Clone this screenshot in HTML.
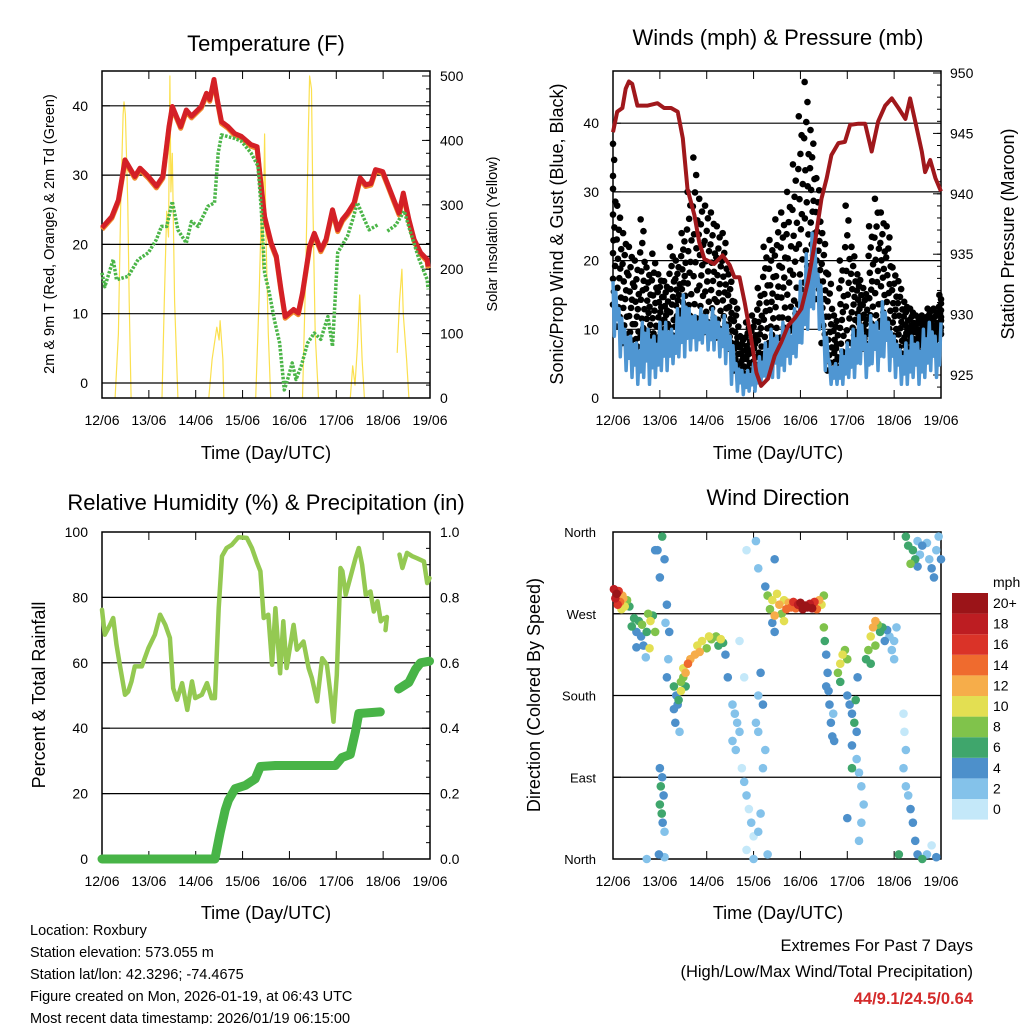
<!DOCTYPE html>
<html><head><meta charset="utf-8">
<style>
html,body{margin:0;padding:0;background:#fff;}
svg{display:block;font-family:"Liberation Sans",Arial,sans-serif;}
</style></head>
<body>
<svg id="fig" width="1024" height="1024" viewBox="0 0 1024 1024" xmlns="http://www.w3.org/2000/svg">
<rect width="1024" height="1024" fill="#fff"/>
<g id="g1"></g>
<g id="g2"></g>
<g id="g3"></g>
<g id="g4"></g>
<g font-size="14.5" fill="#000">
<text x="30" y="935">Location: Roxbury</text>
<text x="30" y="957">Station elevation: 573.055 m</text>
<text x="30" y="979">Station lat/lon: 42.3296; -74.4675</text>
<text x="30" y="1001">Figure created on Mon, 2026-01-19, at 06:43 UTC</text>
<text x="30" y="1023">Most recent data timestamp: 2026/01/19 06:15:00</text>
</g>
<g font-size="16.5" text-anchor="end">
<text x="973" y="951">Extremes For Past 7 Days</text>
<text x="973" y="977">(High/Low/Max Wind/Total Precipitation)</text>
<text x="973" y="1004" fill="#d42a2a" font-weight="bold">44/9.1/24.5/0.64</text>
</g>
</svg>
<script>
// ---- data ----
const dayLabels=["12/06","13/06","14/06","15/06","16/06","17/06","18/06","19/06"];
const tempTimes=[0,.21,.35,.49,.70,.81,.99,1.16,1.30,1.43,1.50,1.68,1.80,1.91,2.12,2.23,2.30,2.39,2.46,2.55,2.69,2.83,2.97,3.18,3.31,3.36,3.47,3.61,3.72,3.82,3.91,4.0,4.09,4.19,4.28,4.43,4.53,4.67,4.78,4.92,5.03,5.13,5.24,5.38,5.51,5.63,5.74,5.84,5.99,6.09,6.23,6.34,6.43,6.55,6.66,6.80,6.94,6.96];
const tempValues=[22.4,24,26.4,32.2,29.8,31,29.8,28.4,29.8,37,39.9,37,39.4,38.5,39.9,41.8,40.9,43.8,40.9,37.7,37,36,35.6,34.4,34.1,30.8,24,20.2,18.3,13.5,9.6,10.1,10.6,10.1,13,19.7,21.6,19.2,20.7,25,22.1,23.6,24.5,26,29.6,28.6,28.8,30.8,30.5,28.8,26.4,24.5,27.4,23.6,20.7,18.8,17.8,16.8];
const dewTimes=[0,.06,.24,.31,.56,.77,.99,1.16,1.27,1.38,1.50,1.62,1.80,1.91,2.05,2.26,2.40,2.48,2.55,2.83,2.97,3.18,3.33,3.40,3.47,3.57,3.68,3.79,3.89,3.96,4.06,4.14,4.25,4.39,4.53,4.67,4.82,4.92,5.03,5.24,5.35,5.45,5.60,5.70,5.88,null,6.09,6.27,6.45,6.59,6.77,6.94,6.96];
const dewValues=[15.9,13.9,17.8,14.9,15.4,17.8,18.8,20.7,22.6,22.6,26.2,22.1,20.2,23.3,22.6,25.5,26,33.2,35.8,35.3,34.9,33.2,31.3,25,15.9,13,9.1,5.8,-1,0.5,2.9,0.5,2.4,5.8,7.2,6.3,9.6,5.3,18.8,21.2,23.6,26,23.6,22.1,22.8,null,21.9,22.8,24.8,21.6,17.8,14.9,13.5];
const solarTimes=[0.28,0.35,0.4,0.45,0.47,0.5,0.55,0.58,0.62,null,1.28,1.33,1.38,1.42,1.45,1.47,1.5,1.55,1.62,null,2.28,2.35,2.45,2.5,2.52,2.58,2.6,null,3.28,3.35,3.4,3.43,3.47,3.5,3.55,3.6,null,4.28,4.35,4.4,4.43,4.47,4.5,4.55,4.62,null,5.3,5.35,5.4,5.45,5.5,5.55,5.6,null,6.3,6.35,6.4,6.43,6.5,6.55];
const solarValues=[0,100,300,440,460,440,300,150,0,null,0,150,290,250,500,320,380,150,0,null,0,60,110,90,120,60,0,null,0,150,290,200,410,250,100,0,null,0,200,400,500,480,300,100,0,null,0,50,20,80,160,60,0,null,70,150,200,130,60,0];
const presTimes=[0,.09,.2,.27,.34,.41,.52,.74,.95,1.09,1.24,1.38,1.49,1.59,1.74,1.84,1.95,2.16,2.34,2.49,2.59,2.7,2.81,2.95,3.06,3.16,3.31,3.45,3.59,3.74,3.88,4.02,4.16,4.31,4.45,4.56,4.66,4.81,4.95,5.06,5.24,5.38,5.52,5.66,5.81,5.95,6.09,6.24,6.34,6.45,6.59,6.66,6.77,6.88,7.0];
const presValues=[945.1,946.8,947.1,948.7,949.3,949.1,947.3,947.3,947.5,947.1,947.1,946.8,944.6,940.4,938.2,936.0,934.6,934.2,934.9,934.1,933.1,933.1,931.0,928.0,925.2,924.1,924.7,926.6,927.7,929.1,929.7,930.5,932.7,936.0,939.6,941.3,943.2,944.2,944.3,945.7,945.8,945.8,943.5,946.0,947.3,947.9,947.1,946.2,947.9,946.0,943.5,941.8,942.8,941.3,940.2];
// wind every 3 h (0.125 day)
const windHigh=[17,13,10,9,8,11,10,9,11,11,10,13,15,13,12,13,12,13,11,12,9,5,4,4,5,6,8,10,9,11,10,13,17,21,24,18,10,5,5,7,8,10,12,9,12,11,14,11,9,7,8,9,8,10,11,9,11];
const windLow=[9,6,4,3,2,3,2,3,4,4,5,6,6,7,7,8,7,7,6,5,2,1,0.5,1,1,2,3,3,3,4,5,6,8,10,13,10,4,2,2,2,3,3,5,3,5,4,6,4,3,2,2,3,2,3,4,3,4];
const gustHigh=[37,28,24,22,20,26,19,21,18,17,22,20,24,30,35,29,28,27,25,24,18,14,9,11,12,16,22,23,26,27,30,34,41,46,39,32,24,18,12,20,28,22,18,16,25,29,27,25,19,17,14,13,12,12,13,13,15];
const rhTimes=[0,.06,.17,.24,.31,.38,.49,.56,.63,.70,.85,.99,1.13,1.24,1.35,1.45,1.52,1.60,1.71,1.82,1.92,1.99,2.13,2.24,2.34,2.41,2.49,2.56,2.66,2.77,2.91,3.09,3.20,3.30,3.38,3.45,3.55,3.63,3.70,3.80,3.87,3.94,4.09,4.16,4.30,4.41,4.48,4.59,4.70,4.80,4.87,4.94,5.01,5.09,5.13,5.20,5.41,5.48,5.55,5.63,5.73,5.80,5.88,5.95,6.02,null,6.05,6.08,null,6.35,6.41,6.51,6.62,6.72,6.87,6.94,6.99];
const rhValues=[76.2,68.6,71.6,73.7,65.5,59.4,50.2,51.2,54.3,58.9,58.9,64.5,68.6,74.7,71.6,67.6,52.2,48.7,53.8,45.6,54.3,49.2,50.2,53.8,49.2,49.2,76.7,92.6,95.1,96.1,98.4,98.2,95.1,91,88,73.7,74.7,59.4,76.7,56.8,72.7,58.4,71.6,64,66.5,58.4,55.3,48.2,61.4,59.4,51.2,42,56.3,89,88,80.8,92,95.1,90,80.8,81.8,75.7,78.8,72.7,73.7,null,70,74,null,93.1,89,93.6,92.6,92,91,84.4,85.9];
const rainTimes=[0,2.41,2.52,2.63,2.70,2.84,3.06,3.27,3.38,3.70,4.98,5.12,5.30,5.41,5.48,5.94,null,6.33,6.55,6.69,6.80,6.99];
const rainValues=[0,0,.08,.15,.18,.215,.225,.245,.283,.286,.286,.31,.32,.39,.445,.45,null,.52,.54,.58,.60,.605];
const dirTimes=[0.02,0.08,0.12,0.05,0.15,0.2,0.25,0.3,0.18,0.1,0.22,0.35,0.45,0.5,0.55,0.6,0.65,0.7,0.75,0.8,0.85,0.5,0.62,0.72,0.9,0.78,0.4,0.95,1.0,1.05,1.1,1.15,1.2,1.18,1.12,1.0,1.02,1.05,1.08,1.04,1.06,1.1,0.98,1.1,1.0,1.15,0.9,0.72,1.3,1.35,1.4,1.45,1.5,1.55,1.6,1.65,1.45,1.5,1.38,1.33,1.42,1.55,1.3,1.75,1.8,1.9,2.0,2.1,2.2,2.3,2.35,2.4,1.85,2.05,2.25,2.45,2.55,2.6,2.65,2.7,2.55,2.62,2.75,2.8,2.85,2.9,2.95,3.0,2.85,3.1,3.15,3.2,3.1,3.25,3.05,3.2,2.8,2.7,3.1,3.15,3.0,3.3,2.85,3.05,3.1,3.3,3.35,3.4,3.45,3.5,3.55,3.6,3.65,3.7,3.75,3.8,3.85,3.9,3.95,4.0,4.05,4.1,4.15,4.2,4.25,4.3,4.35,4.4,4.45,4.5,3.4,3.45,3.65,3.25,3.45,4.5,4.52,4.55,4.58,4.6,4.62,4.65,4.68,4.72,4.7,4.55,4.8,4.85,4.9,4.95,5.0,4.85,5.0,5.05,5.1,5.15,5.2,5.1,5.2,5.25,5.3,5.35,5.3,5.25,5.0,5.1,5.18,5.22,5.4,5.45,5.5,5.55,5.6,5.65,5.7,5.75,5.8,5.85,5.9,5.95,6.0,5.5,5.6,6.05,6.0,6.2,6.22,6.25,6.2,6.25,6.3,6.35,6.4,6.45,6.5,6.6,6.7,6.8,6.9,6.1,6.25,6.3,6.4,6.45,6.5,6.55,6.6,6.7,6.75,6.8,6.85,6.9,6.95,7.0,6.35,6.5];
const dirValues=[297,292,295,287,283,290,278,285,275,280,287,278,265,250,262,245,235,222,270,262,268,233,258,250,250,232,256,340,310,355,330,280,250,220,260,100,80,90,70,50,40,30,5,2,60,200,340,0,190,180,175,195,200,205,215,220,185,210,170,150,140,190,165,225,235,240,232,242,245,242,238,225,228,245,235,200,170,160,150,140,130,120,100,85,70,55,40,25,10,30,50,100,140,120,150,170,200,240,180,205,0,5,340,350,320,290,275,285,268,292,280,270,285,275,282,277,283,276,280,282,275,279,277,281,276,283,275,285,280,290,260,250,262,300,330,255,240,225,205,185,170,150,135,130,160,190,205,215,225,230,220,195,180,170,160,150,140,125,110,95,80,60,40,20,45,100,175,200,220,230,245,255,262,258,250,255,240,252,245,230,240,215,235,255,220,160,140,120,100,80,70,55,40,20,5,0,5,15,2,5,355,345,340,330,322,335,345,348,330,320,310,340,355,330,325,350];
const dirSpeeds=[18,20,17,19,14,13,10,9,11,16,12,7,7,5,6,4,5,3,9,10,7,4,8,6,9,11,7,4,5,6,4,5,4,3,3,5,6,4,5,6,5,3,4,3,7,4,4,2,6,5,6,8,9,13,14,12,11,10,4,4,3,7,4,12,10,11,9,8,8,11,7,5,13,10,7,4,3,2,3,2,3,2,1,2,2,1,2,1,1,2,3,2,3,3,2,4,1,1,3,4,2,2,1,2,3,8,9,11,12,10,13,9,11,14,12,15,16,14,18,20,21,20,22,19,20,16,15,12,10,8,5,4,11,5,5,8,6,5,4,4,4,4,5,4,3,4,9,10,11,9,8,7,4,5,4,6,5,4,3,2,3,3,2,3,4,6,7,5,7,8,10,12,13,9,7,6,5,4,3,2,3,6,8,3,2,1,1,2,2,2,3,4,4,4,5,6,2,1,4,6,6,7,7,6,5,3,4,3,3,4,4,2,3,4,8,2];
const speedBins=["0","2","4","6","8","10","12","14","16","18","20+"];
const speedColors=["#c4e8f9","#84c2ea","#4d90cb","#3fa66c","#80c34b","#e3df52","#f6ad4a","#ef6b2e","#da3328","#bd1d22","#9b1418"];

// ---- helpers ----
const NS="http://www.w3.org/2000/svg";
function mk(parent,tag,attrs){const e=document.createElementNS(NS,tag);for(const k in attrs)e.setAttribute(k,attrs[k]);parent.appendChild(e);return e;}
function txt(parent,x,y,s,size,anchor,rot){const t=mk(parent,"text",{x:x,y:y,"font-size":size,"text-anchor":anchor||"middle"});if(rot)t.setAttribute("transform","rotate(-90 "+x+" "+y+")");t.textContent=s;return t;}
function pathFrom(ts,vs,fx,fy){let d="",pen=false;for(let i=0;i<ts.length;i++){if(ts[i]===null||vs[i]===null){pen=false;continue;}d+=(pen?"L":"M")+fx(ts[i]).toFixed(1)+","+fy(vs[i]).toFixed(1);pen=true;}return d;}
function frameAxes(g,L,R,T,B,leftTicks,yl,rightMajor,yr,rightMinor,grid){
  grid.forEach(v=>{const l=mk(g,"line",{x1:L,x2:R,y1:yl(v),y2:yl(v),stroke:"#000","stroke-width":1.2});
  
  });
  for(let d=0;d<=7;d++){const x=L+d*(R-L)/7;
    mk(g,"line",{x1:x,x2:x,y1:B,y2:B-8,stroke:"#000","stroke-width":1});
    mk(g,"line",{x1:x,x2:x,y1:T,y2:T+8,stroke:"#000","stroke-width":1});
    const t=txt(g,x,B+27,dayLabels[d],14);
    
    }
  leftTicks.forEach(v=>{mk(g,"line",{x1:L,x2:L+8,y1:yl(v),y2:yl(v),stroke:"#000"});});
  if(rightMajor){rightMajor.forEach(v=>{mk(g,"line",{x1:R,x2:R-8,y1:yr(v),y2:yr(v),stroke:"#000"});});
    rightMinor.forEach(v=>{mk(g,"line",{x1:R,x2:R-4,y1:yr(v),y2:yr(v),stroke:"#000"});});}
  const f=mk(g,"rect",{x:L,y:T,width:R-L,height:B-T,fill:"none",stroke:"#000","stroke-width":1.5});
  
  
}
function range(a,b,s){const r=[];for(let v=a;v<=b+1e-9;v+=s)r.push(+v.toFixed(4));return r;}

// ---- Panel 1: Temperature ----
(function(){
const g=document.getElementById("g1");const L=102,R=430,T=71,B=398;
const x=d=>L+d*(R-L)/7, yT=v=>383-v*6.93, yS=w=>398-w*0.644;
const s=mk(g,"path",{d:pathFrom(solarTimes,solarValues,x,yS),fill:"none",stroke:"#fbe04f","stroke-width":1.2,"stroke-linejoin":"round"});


frameAxes(g,L,R,T,B,[0,10,20,30,40],yT,range(0,500,100),yS,range(0,500,20),[0,10,20,30,40]);
const o=mk(g,"path",{d:pathFrom(tempTimes,tempValues.map(v=>v-0.25),x,yT),fill:"none",stroke:"#f08a2c","stroke-width":5,"stroke-linejoin":"round"});


const r=mk(g,"path",{d:pathFrom(tempTimes,tempValues,x,yT),fill:"none",stroke:"#d42026","stroke-width":5,"stroke-linejoin":"round"});


const gr=mk(g,"path",{d:pathFrom(dewTimes,dewValues,x,yT),fill:"none",stroke:"#4bb548","stroke-width":3.5,"stroke-dasharray":"2.5 1.5","stroke-linejoin":"round"});


[0,10,20,30,40].forEach(v=>{const t=txt(g,88,yT(v)+5,String(v),14,"end");

});
range(0,500,100).forEach(v=>{const t=txt(g,440,yS(v)+5,String(v),14,"start");

});
let t=txt(g,266,51,"Temperature (F)",22);


t=txt(g,266,459,"Time (Day/UTC)",18);


t=txt(g,54,234,"2m & 9m T (Red, Orange) & 2m Td (Green)",14.5,"middle",true);


t=txt(g,497,234,"Solar Insolation (Yellow)",14.5,"middle",true);


})();

// ---- Panel 2: Winds ----
(function(){
const g=document.getElementById("g2");const L=613,R=941,T=71,B=398;
const x=d=>L+d*(R-L)/7, yW=v=>398-v*6.87, yP=p=>73+(950-p)*12.08;
frameAxes(g,L,R,T,B,[0,10,20,30,40],yW,range(925,950,5),yP,range(924,950,1),[10,20,30,40]);
const gg=mk(g,"g",{fill:"#000"});


const fr=[0,0.08,0.16,0.24,0.32,0.4,0.48,0.56,0.64,0.72,0.8,0.9,1],off=[-0.05,0.02,-0.01,0.045,-0.03,0.01,0.03,-0.02,0.05,-0.045,0.0,0.025,-0.035];
for(let i=0;i<gustHigh.length;i++){const lo=windHigh[i]*0.8,hi=gustHigh[i];
  fr.forEach((f,k)=>{const t=Math.min(7,Math.max(0,i*0.125+off[k]));const c=mk(gg,"circle",{cx:x(t),cy:yW(lo+(hi-lo)*f),r:3.3});
  
  });}
let bd="";
for(let i=0;i<windHigh.length;i++){const t0=i*0.125;
  const pts=[[t0,windHigh[i]],[t0+0.03,windLow[i]],[t0+0.06,windHigh[i]*0.8+windLow[i]*0.2],[t0+0.09,windLow[i]*0.7+windHigh[i]*0.3]];
  pts.forEach(p=>{if(p[0]<=7)bd+=(bd?"L":"M")+x(p[0]).toFixed(1)+","+yW(p[1]).toFixed(1);});}
const bl=mk(g,"path",{d:bd,fill:"none",stroke:"#4f96d2","stroke-width":3.5,"stroke-linejoin":"round"});


const p=mk(g,"path",{d:pathFrom(presTimes,presValues,x,yP),fill:"none",stroke:"#a0181c","stroke-width":4,"stroke-linejoin":"round"});


[0,10,20,30,40].forEach(v=>{const t=txt(g,599,yW(v)+5,String(v),14,"end");

});
range(925,950,5).forEach(v=>{const t=txt(g,950,yP(v)+5,String(v),14,"start");

});
let t=txt(g,778,45,"Winds (mph) & Pressure (mb)",22);


t=txt(g,778,459,"Time (Day/UTC)",18);


t=txt(g,563,234,"Sonic/Prop Wind & Gust (Blue, Black)",18,"middle",true);


t=txt(g,1014,234,"Station Pressure (Maroon)",18,"middle",true);


})();

// ---- Panel 3: RH & precip ----
(function(){
const g=document.getElementById("g3");const L=102,R=430,T=532,B=859;
const x=d=>L+d*(R-L)/7, yH=v=>859-v*3.27, yR=v=>859-v*327;
frameAxes(g,L,R,T,B,range(0,100,20),yH,range(0,1,0.2),yR,range(0,1,0.05),[20,40,60,80]);
const h=mk(g,"path",{d:pathFrom(rhTimes,rhValues,x,yH),fill:"none",stroke:"#94c952","stroke-width":4.5,"stroke-linejoin":"round","stroke-linecap":"round"});


const r=mk(g,"path",{d:pathFrom(rainTimes,rainValues,x,yR),fill:"none",stroke:"#48b447","stroke-width":9,"stroke-linejoin":"round","stroke-linecap":"round"});


range(0,100,20).forEach(v=>{const t=txt(g,88,yH(v)+5,String(v),14,"end");

});
range(0,1,0.2).forEach(v=>{const t=txt(g,440,yR(v)+5,v.toFixed(1),14,"start");

});
let t=txt(g,266,510,"Relative Humidity (%) & Precipitation (in)",22);


t=txt(g,266,919,"Time (Day/UTC)",18);


t=txt(g,45,695,"Percent & Total Rainfall",18,"middle",true);


})();

// ---- Panel 4: Wind direction ----
(function(){
const g=document.getElementById("g4");const L=613,R=941,T=532,B=859;
const x=d=>L+d*(R-L)/7, yD=v=>859-v*327/360;
frameAxes(g,L,R,T,B,[0,90,180,270,360],yD,null,null,null,[90,180,270]);
const pg=mk(g,"g",{});


const order=dirSpeeds.map((s,i)=>i).sort((a,b)=>dirSpeeds[a]-dirSpeeds[b]);
order.forEach(i=>{const bin=Math.min(10,Math.floor(dirSpeeds[i]/2));
  const c=mk(pg,"circle",{cx:x(dirTimes[i]),cy:yD(dirValues[i]),r:4.3,fill:speedColors[bin]});
  
  });
const names=["North","East","South","West","North"];
[0,90,180,270,360].forEach((v,k)=>{const t=txt(g,596,yD(v)+5,names[k],13,"end");

});
const lg=mk(g,"g",{});


for(let k=0;k<11;k++){const yy=799-k*20.6;
  const b=mk(lg,"rect",{x:952,y:yy,width:36,height:20.6,fill:speedColors[k]});
  
  
  const t=txt(lg,993,yy+15,speedBins[k],14,"start");
  
  }
let t=txt(lg,993,587,"mph",14,"start");


t=txt(g,778,505,"Wind Direction",22);


t=txt(g,778,919,"Time (Day/UTC)",18);


t=txt(g,540,695,"Direction (Colored By Speed)",18,"middle",true);


})();
</script>
</body></html>
